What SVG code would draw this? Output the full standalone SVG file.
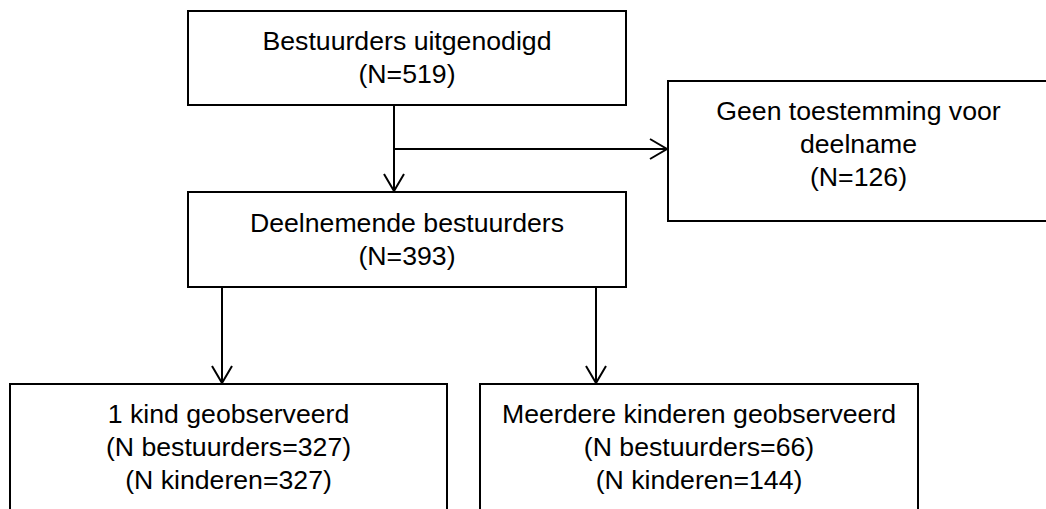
<svg xmlns="http://www.w3.org/2000/svg" width="1046" height="509" viewBox="0 0 1046 509">
<style>
.box{fill:#fff;stroke:#000;stroke-width:2}
.lbl{font-family:"Liberation Sans",Arial,sans-serif;font-size:26.67px;fill:#000;text-anchor:middle}
.con{fill:none;stroke:#000;stroke-width:2}
</style>
<defs>
<marker id="arr" viewBox="0 0 20 24" markerWidth="20" markerHeight="24" refX="18" refY="12" orient="auto" markerUnits="userSpaceOnUse">
<path d="M1,2 L18,12 L1,22" fill="none" stroke="#000" stroke-width="2"/>
</marker>
</defs>
<rect width="1046" height="509" fill="#fff"/>
<g id="connectors">
<line class="con" x1="394" y1="105" x2="394" y2="191" marker-end="url(#arr)"/>
<line class="con" x1="393" y1="149" x2="667" y2="149" marker-end="url(#arr)"/>
<line class="con" x1="222" y1="287" x2="222" y2="383" marker-end="url(#arr)"/>
<line class="con" x1="596" y1="287" x2="596" y2="383" marker-end="url(#arr)"/>
</g>
<g id="node-invited">
<rect class="box" x="188" y="11" width="438" height="94"/>
<text class="lbl" x="407" y="50">Bestuurders uitgenodigd</text>
<text class="lbl" x="407" y="83">(N=519)</text>
</g>
<g id="node-no-consent">
<rect class="box" x="668" y="81" width="381" height="140"/>
<text class="lbl" x="858.5" y="120">Geen toestemming voor</text>
<text class="lbl" x="858.5" y="153">deelname</text>
<text class="lbl" x="858.5" y="186">(N=126)</text>
</g>
<g id="node-participating">
<rect class="box" x="188" y="192" width="438" height="95"/>
<text class="lbl" x="407" y="232">Deelnemende bestuurders</text>
<text class="lbl" x="407" y="265">(N=393)</text>
</g>
<g id="node-one-child">
<rect class="box" x="10" y="384" width="437" height="140"/>
<text class="lbl" x="228.5" y="423">1 kind geobserveerd</text>
<text class="lbl" x="228.5" y="455.5">(N bestuurders=327)</text>
<text class="lbl" x="228.5" y="488.5">(N kinderen=327)</text>
</g>
<g id="node-multiple-children">
<rect class="box" x="480" y="384" width="438" height="140"/>
<text class="lbl" x="699" y="423">Meerdere kinderen geobserveerd</text>
<text class="lbl" x="699" y="455.5">(N bestuurders=66)</text>
<text class="lbl" x="699" y="488.5">(N kinderen=144)</text>
</g>
</svg>
